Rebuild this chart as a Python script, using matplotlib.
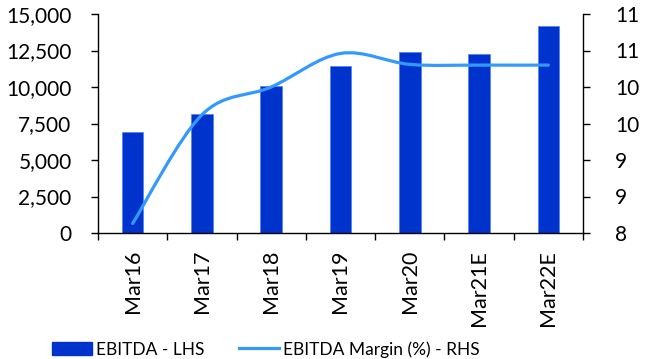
import matplotlib.pyplot as plt
import numpy as np
from matplotlib.path import Path
from matplotlib.patches import PathPatch, Patch
from matplotlib.lines import Line2D
from matplotlib.ticker import FuncFormatter, MultipleLocator

plt.rcParams['font.family'] = ['Lato', 'DejaVu Sans']

# EBITDA (LHS) y margen (RHS)
periodos = ["Mar16", "Mar17", "Mar18", "Mar19", "Mar20", "Mar21E", "Mar22E"]
ebitda = [6900, 8150, 10050, 11450, 12380, 12240, 14150]
margen = [8.13, 9.62, 10.0, 10.46, 10.31, 10.30, 10.30]

azul_barra = "#0033cc"
azul_linea = "#3399ff"

fig = plt.figure(figsize=(6.49, 3.59), dpi=100)
ax = fig.add_axes([98/649, 1 - 233/359, (583-98)/649, (233-14)/359])
ax2 = ax.twinx()

x = np.arange(len(periodos))
ax.bar(x, ebitda, width=0.31, color=azul_barra, edgecolor="#4d7fff", linewidth=0.5, zorder=2)

# curva suavizada tipo Catmull-Rom a partir de los puntos del margen
pts = np.column_stack([x, margen]).astype(float)
verts = [pts[0]]
codes = [Path.MOVETO]
n = len(pts)
for i in range(n - 1):
    p0 = pts[i - 1] if i > 0 else pts[i]
    p1 = pts[i]
    p2 = pts[i + 1]
    p3 = pts[i + 2] if i + 2 < n else pts[i + 1]
    c1 = p1 + (p2 - p0) / 6.0
    c2 = p2 - (p3 - p1) / 6.0
    verts += [c1, c2, p2]
    codes += [Path.CURVE4] * 3
ax2.add_patch(PathPatch(Path(verts, codes), facecolor="none", edgecolor=azul_linea,
                        lw=2.3, capstyle="round", zorder=3))

ax.set_xlim(-0.5, len(periodos) - 0.5)
ax.set_ylim(0, 15000)
ax2.set_ylim(8, 11)
ax.yaxis.set_major_locator(MultipleLocator(2500))
ax.yaxis.set_major_formatter(FuncFormatter(lambda v, p: f"{v:,.0f}"))
ax2.yaxis.set_major_locator(MultipleLocator(0.5))
ax2.yaxis.set_major_formatter(FuncFormatter(lambda v, p: f"{int(np.floor(v + 0.5))}"))

ax.set_xticks(x)
ax.set_xticklabels(periodos, rotation=90, fontsize=15.5)
ax.set_xticks(np.arange(len(periodos) + 1) - 0.5, minor=True)
ax.tick_params(axis="x", which="major", length=0, pad=12)
ax.tick_params(axis="x", which="minor", length=5, width=1, direction="out")
ax.tick_params(axis="y", labelsize=15, length=5, width=1, direction="out", pad=14)
ax2.tick_params(axis="y", labelsize=15, length=5, width=1, direction="out", pad=18)

for a in (ax, ax2):
    a.spines["top"].set_visible(False)
    for s in ("left", "right", "bottom"):
        a.spines[s].set_color("black")
        a.spines[s].set_linewidth(1)
ax2.spines["left"].set_visible(False)
ax2.spines["bottom"].set_visible(False)
ax.spines["right"].set_visible(False)

handles = [Patch(facecolor=azul_barra, edgecolor=azul_barra),
           Line2D([0], [0], color=azul_linea, lw=2.3)]
fig.legend(handles, ["EBITDA - LHS", "EBITDA Margin (%) - RHS"], loc="lower left",
           bbox_to_anchor=(36/649, -0.04), ncol=2, frameon=False, fontsize=12.5,
           handlelength=2.3, handleheight=0.8, handletextpad=0.25, columnspacing=2.0)

plt.savefig("out.png", dpi=100)
plt.close()
